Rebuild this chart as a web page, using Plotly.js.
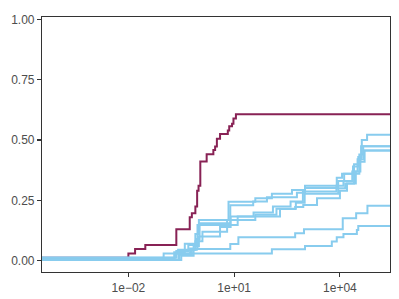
<!DOCTYPE html>
<html>
<head>
<meta charset="utf-8">
<script src="https://cdn.plot.ly/plotly-3.0.1.min.js"></script>
<style>html,body{margin:0;padding:0;background:#fff;}#chart{width:399px;height:299px;}</style>
</head>
<body>
<div id="chart"></div>
<script>
// step series: log10(x) of each step and the y value after it (first point = padded start)
const redLogX = [-5, -2.0, -1.81, -1.52, -0.64, -0.26, -0.20, -0.10, -0.05, -0.01, 0.04, 0.22, 0.41, 0.46, 0.51, 0.60, 0.82, 0.86, 0.94, 0.98, 1.05];
const redY    = [0.012, 0.030, 0.048, 0.065, 0.130, 0.180, 0.197, 0.225, 0.290, 0.310, 0.411, 0.441, 0.459, 0.473, 0.505, 0.525, 0.540, 0.557, 0.568, 0.589, 0.607];

const aLogX = [-5, -0.70, -0.40, -0.10, 0.00, 0.84, 1.60, 2.07, 2.64, 3.01, 3.91, 4.06, 4.37, 4.52, 4.62, 4.77];
const aY    = [0.012, 0.035, 0.070, 0.110, 0.169, 0.244, 0.259, 0.277, 0.293, 0.310, 0.344, 0.360, 0.390, 0.430, 0.500, 0.522];

const bLogX = [-5, -0.64, -0.30, -0.06, 0.02, 0.89, 1.54, 1.93, 2.78, 3.01, 3.95, 4.12, 4.40, 4.55, 4.66];
const bY    = [0.012, 0.040, 0.065, 0.090, 0.155, 0.230, 0.245, 0.263, 0.282, 0.301, 0.330, 0.360, 0.400, 0.440, 0.474];

const xLogX = [-5, -0.58, -0.25, -0.04, 1.10, 1.55, 2.10, 2.60, 2.95, 3.90, 4.10, 4.35, 4.50, 4.60];
const xY    = [0.003, 0.030, 0.050, 0.148, 0.183, 0.200, 0.225, 0.245, 0.287, 0.310, 0.330, 0.370, 0.420, 0.474];

const yLogX = [-5, -0.55, -0.20, -0.10, 0.10, 0.80, 1.60, 2.20, 2.75, 3.00, 3.95, 4.15, 4.40, 4.55, 4.70];
const yY    = [0.003, 0.025, 0.045, 0.080, 0.120, 0.169, 0.190, 0.215, 0.240, 0.277, 0.300, 0.320, 0.360, 0.410, 0.457];

const cLogX = [-5, -0.50, -0.15, 0.00, 0.60, 0.90, 2.30, 2.73, 2.96, 3.35, 4.00, 4.20, 4.45, 4.58, 4.68];
const cY    = [0.003, 0.020, 0.060, 0.100, 0.140, 0.183, 0.214, 0.222, 0.231, 0.259, 0.290, 0.320, 0.370, 0.420, 0.457];

const dLogX = [-5, -0.67, -0.59, -0.06, 0.89, 1.12, 2.73, 2.98, 4.08, 4.46, 4.78];
const dY    = [0.012, 0.030, 0.045, 0.048, 0.069, 0.097, 0.114, 0.130, 0.176, 0.197, 0.228];

const eLogX = [-5, -1.00, 2.07, 3.01, 3.77, 3.91, 4.10, 4.48, 4.52];
const eY    = [0.003, 0.030, 0.047, 0.061, 0.079, 0.097, 0.111, 0.127, 0.144];

const xTickVals = [0.01, 10, 10000];
const xTickText = ['1e\u221202', '1e+01', '1e+04'];
const yTickVals = [0, 0.25, 0.5, 0.75, 1];
const yTickText = ['0.00', '0.25', '0.50', '0.75', '1.00'];

const wine = '#882255', cyan = '#88CCEE';
function stepTrace(lx, ys, color) {
  const xs = lx.map(v => Math.pow(10, v));
  xs.push(1e7); ys = ys.concat([ys[ys.length - 1]]);
  return {x: xs, y: ys, type: 'scatter', mode: 'lines', line: {shape: 'hv', color: color, width: 2}, hoverinfo: 'skip', showlegend: false};
}
const traces = [
  stepTrace(redLogX, redY, wine),
  stepTrace(aLogX, aY, cyan),
  stepTrace(bLogX, bY, cyan),
  stepTrace(xLogX, xY, cyan),
  stepTrace(yLogX, yY, cyan),
  stepTrace(cLogX, cY, cyan),
  stepTrace(dLogX, dY, cyan),
  stepTrace(eLogX, eY, cyan)
];
const axisCommon = {showgrid: false, zeroline: false, showline: true, mirror: true, linecolor: '#333333', linewidth: 1.1,
  ticks: 'outside', ticklen: 4, tickwidth: 1.1, tickcolor: '#333333', tickfont: {family: 'Liberation Sans, Arial, sans-serif', size: 12, color: '#4D4D4D'}};
const layout = {
  width: 399, height: 299,
  margin: {l: 42, r: 9, t: 17, b: 27, pad: 0},
  paper_bgcolor: '#ffffff', plot_bgcolor: '#ffffff',
  xaxis: Object.assign({}, axisCommon, {type: 'log', range: [-4.45, 5.42], tickvals: xTickVals, ticktext: xTickText}),
  yaxis: Object.assign({}, axisCommon, {range: [-0.047, 1.01], tickvals: yTickVals, ticktext: yTickText}),
  showlegend: false
};
Plotly.newPlot('chart', traces, layout, {staticPlot: true, displayModeBar: false});
</script>
</body>
</html>
